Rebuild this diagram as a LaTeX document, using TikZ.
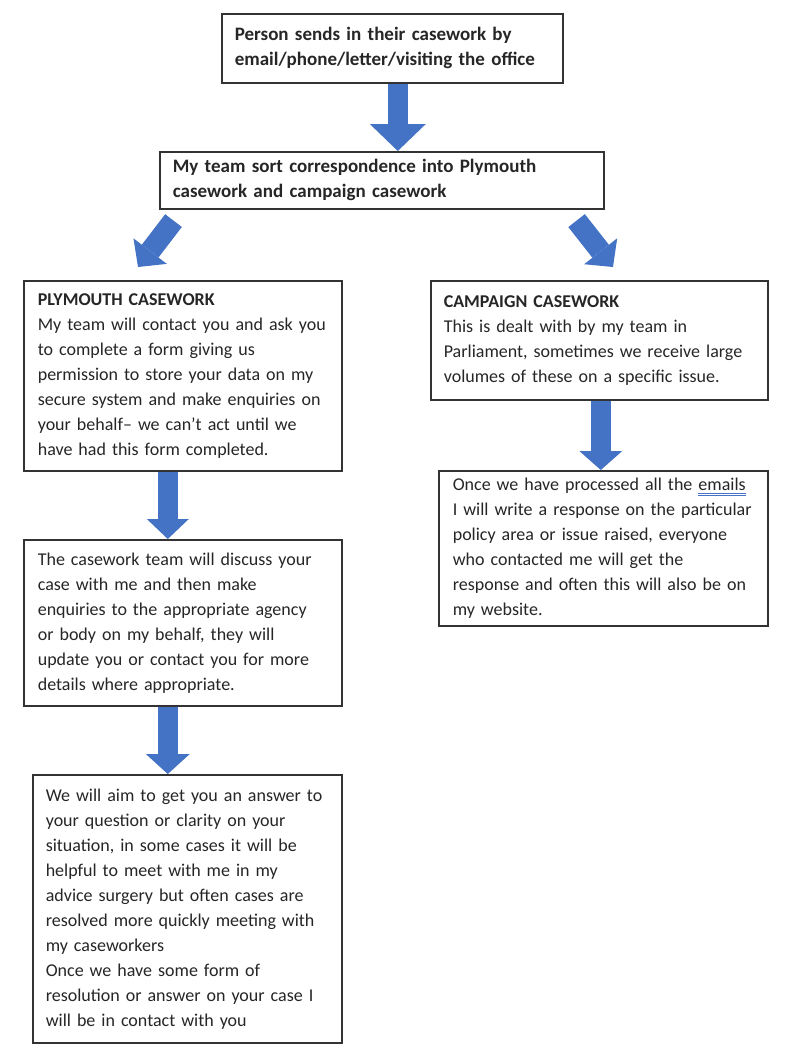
\documentclass[tikz,border=0pt]{standalone}
\usepackage{fontspec}
\setmainfont{Carlito}
\usetikzlibrary{calc}
\usetikzlibrary{arrows.meta}

\definecolor{azul}{HTML}{4472C4}
\definecolor{texto}{HTML}{262626}

% sublinhado duplo azul (marca do corretor)
\newcommand{\dupla}[1]{%
  \setbox0\hbox{#1}%
  \rlap{\color{azul}\rule[-2.8pt]{\wd0}{0.9pt}}%
  \rlap{\color{azul}\rule[-5pt]{\wd0}{0.9pt}}%
  \box0}

\begin{document}
\begin{tikzpicture}[x=1pt,y=-1pt]
  %--------------------------------------------
  % Área total da figura (1 unidade = 1 pixel)
  %--------------------------------------------
  \useasboundingbox (0,0) rectangle (800,1053);

  %--------------------------------------------
  % Estilo das caixas de texto
  %--------------------------------------------
  \tikzstyle{caixa} = [
    draw=black!80, line width=1.6pt, fill=white, rectangle,  % contorno escuro
    anchor=north west, align=left, text=texto,               % canto superior esquerdo
    inner xsep=13pt, inner ysep=0pt,
    font=\fontsize{18}{25}\selectfont
  ]
  \tikzstyle{negrito} = [font=\bfseries\fontsize{19}{25}\selectfont]

  %--------------------------------------------
  % Estilo das setas azuis
  %--------------------------------------------
  \tikzstyle{seta} = [
    draw=azul, line width=20pt,
    -{Triangle[width=42pt, length=20pt, line width=0pt]}
  ]

  %--------------------------------------------
  % Caixas do topo
  %--------------------------------------------
  \node[caixa, negrito, minimum width=341pt, minimum height=69pt, text width=315pt]
    (inicio) at (221,13)
    {Person sends in their casework by\\
     email/phone/letter/visiting the office};

  \node[caixa, negrito, minimum width=444pt, minimum height=57pt, text width=418pt]
    (triagem) at (159,151)
    {My team sort correspondence into Plymouth\\
     casework and campaign casework};

  %--------------------------------------------
  % Coluna da esquerda (Plymouth)
  %--------------------------------------------
  \node[caixa, inner xsep=14pt, minimum width=318pt, minimum height=190pt, text width=290pt]
    (plym1) at (23,280)
    {\textbf{PLYMOUTH CASEWORK}\\
     My team will contact you and ask you\\
     to complete a form giving us\\
     permission to store your data on my\\
     secure system and make enquiries on\\
     your behalf– we can’t act until we\\
     have had this form completed.};

  \node[caixa, inner xsep=14pt, minimum width=318pt, minimum height=166pt, text width=290pt]
    (plym2) at (23,539)
    {The casework team will discuss your\\
     case with me and then make\\
     enquiries to the appropriate agency\\
     or body on my behalf, they will\\
     update you or contact you for more\\
     details where appropriate.};

  \node[caixa, minimum width=309pt, minimum height=268pt, text width=283pt]
    (plym3) at (32,774)
    {We will aim to get you an answer to\\
     your question or clarity on your\\
     situation, in some cases it will be\\
     helpful to meet with me in my\\
     advice surgery but often cases are\\
     resolved more quickly meeting with\\
     my caseworkers\\
     Once we have some form of\\
     resolution or answer on your case I\\
     will be in contact with you};

  %--------------------------------------------
  % Coluna da direita (campanha)
  %--------------------------------------------
  \node[caixa, minimum width=337pt, minimum height=119pt, text width=311pt]
    (camp1) at (430,280)
    {\textbf{CAMPAIGN CASEWORK}\\
     This is dealt with by my team in\\
     Parliament, sometimes we receive large\\
     volumes of these on a specific issue.};

  \node[caixa, inner xsep=14pt, minimum width=329pt, minimum height=155pt, text width=301pt]
    (camp2) at (438,470)
    {Once we have processed all the \dupla{emails}\\
     I will write a response on the particular\\
     policy area or issue raised, everyone\\
     who contacted me will get the\\
     response and often this will also be on\\
     my website.};

  %--------------------------------------------
  % Pontos de partida e chegada das setas
  %--------------------------------------------
  \coordinate (s1) at ($(inicio.south)+(5.5,0)$);
  \coordinate (e1) at ($(triagem.south west)+(14.5,11)$);
  \coordinate (e2) at ($(plym1.north west)+(115,-13)$);
  \coordinate (d1) at ($(triagem.south east)+(-28,11)$);
  \coordinate (d2) at ($(camp1.north west)+(183,-13)$);
  \coordinate (s2) at ($(plym1.south)+(-15,0)$);
  \coordinate (s3) at ($(plym2.south)+(-15,0)$);
  \coordinate (s4) at ($(camp1.south)+(1.5,0)$);

  %--------------------------------------------
  % Setas
  %--------------------------------------------
  \draw[seta, -{Triangle[width=56pt, length=27pt, line width=0pt]}] (s1) -- (s1 |- triagem.north);
  \draw[seta, line width=21pt] (e1) -- (e2);
  \draw[seta, line width=21pt] (d1) -- (d2);
  \draw[seta] (s2) -- (s2 |- plym2.north);
  \draw[seta, -{Triangle[width=44pt, length=20pt, line width=0pt]}] (s3) -- (s3 |- plym3.north);
  \draw[seta, -{Triangle[width=43pt, length=19pt, line width=0pt]}] (s4) -- (s4 |- camp2.north);
\end{tikzpicture}
\end{document}
